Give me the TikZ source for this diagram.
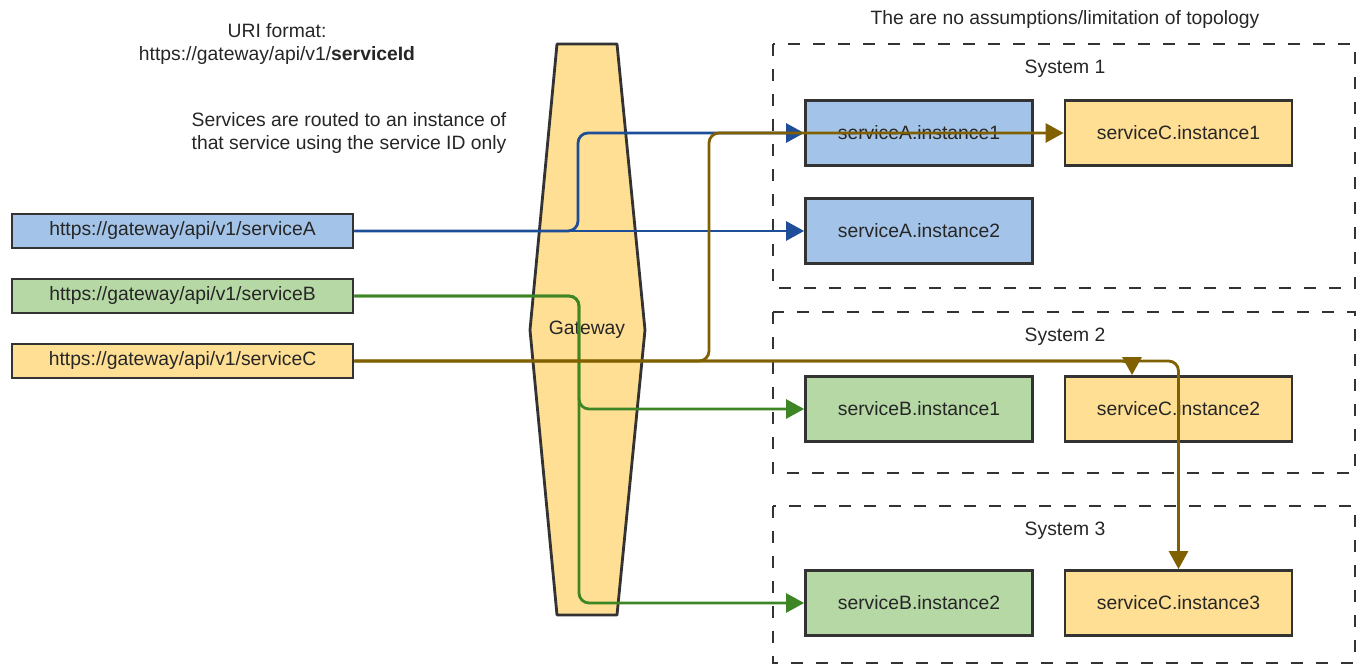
\documentclass[tikz,border=0pt]{standalone}
\usepackage{fontspec}
\setmainfont{Liberation Sans}
\usetikzlibrary{arrows.meta}
\definecolor{edgegray}{HTML}{333333}
\definecolor{fillA}{HTML}{A3C4E8}
\definecolor{fillB}{HTML}{B5D8A5}
\definecolor{fillC}{HTML}{FFDF94}
\definecolor{lineA}{HTML}{1F4E99}
\definecolor{lineB}{HTML}{3E8526}
\definecolor{lineC}{HTML}{806000}
\begin{document}
\begin{tikzpicture}[x=0.02cm, y=-0.02cm, font=\fontsize{11}{13}\selectfont, text=black!85,
  box/.style={draw=edgegray, line width=1.6pt, inner sep=0pt},
  sysbox/.style={draw=edgegray, line width=1.6pt, dash pattern=on 0.24cm off 0.26cm},
  gwshape/.style={draw=edgegray, fill=fillC, line width=1.6pt, line join=round},
  link/.style={line width=1.6pt, rounded corners=0.2cm, -{Triangle[length=0.36cm, width=0.38cm]}},
  linkA/.style={link, draw=lineA},
  linkB/.style={link, draw=lineB},
  linkC/.style={link, draw=lineC}]
  \useasboundingbox (0,0) rectangle (1363,668);
  % Notes
  \node[align=center] (uriNote) at (277,44) {URI format:\\https://gateway/api/v1/\textbf{serviceId}};
  \node[align=center] (routeNote) at (349,133) {Services are routed to an instance of\\that service using the service ID only};
  \node (topoNote) at (1065,20) {The are no assumptions/limitation of topology};
  % Systems (dashed frames)
  \foreach \n/\ya/\yb/\lbl in {sysOne/44/288/System 1, sysTwo/312/473/System 2, sysThree/506/663/System 3} {
    \draw[sysbox] (773,\ya) rectangle (1355,\yb);
    \node (\n) at (1065,\ya+25) {\lbl};
  }
  % Gateway
  \draw[gwshape] (557,44) -- (617,44) -- (645,330) -- (617,615) -- (557,615) -- (530,330) -- cycle;
  \node (gw) at (587,330) {Gateway};
  % Request URLs
  \foreach \n/\y/\c/\s in {urlA/231/fillA/A, urlB/296/fillB/B, urlC/361/fillC/C} {
    \node[box, fill=\c, minimum width=6.82cm, minimum height=0.68cm] (\n) at (182.5,\y) {https://gateway/api/v1/service\s};
  }
  % Service instances
  \foreach \n/\x/\y/\c/\lbl in {
      A1/919/133/fillA/serviceA.instance1,
      C1/1178.5/133/fillC/serviceC.instance1,
      A2/919/231/fillA/serviceA.instance2,
      B1/919/409/fillB/serviceB.instance1,
      C2/1178.5/409/fillC/serviceC.instance2,
      B2/919/603/fillB/serviceB.instance2,
      C3/1178.5/603/fillC/serviceC.instance3}
  {
    \node[box, fill=\c, minimum width=4.54cm, minimum height=1.3cm] (\n) at (\x,\y) {\lbl};
  }
  % Routes
  \coordinate (splitA) at (578,231);
  \coordinate (splitB) at (579,296);
  \coordinate (splitC) at (709,361);
  \draw[linkA] (urlA) -- (A2);
  \draw[linkA] (urlA.east) -| (splitA |- A1.west) -- (A1.west);
  \draw[linkB] (urlB.east) -| (splitB |- B1.west) -- (B1.west);
  \draw[linkB] (urlB.east) -| (splitB |- B2.west) -- (B2.west);
  \draw[linkC] (urlC.east) -| (splitC |- C1.west) -- (C1.west);
  \draw[linkC] (urlC.east) -| ([xshift=-0.93cm]C2.north);
  \draw[linkC] (urlC.east) -| (C3.north);
\end{tikzpicture}
\end{document}
